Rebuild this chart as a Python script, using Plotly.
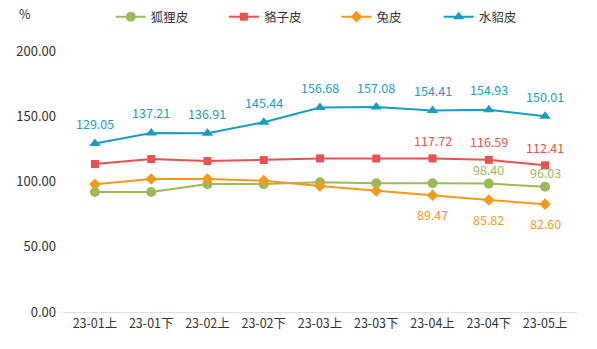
import plotly.graph_objects as go

categories = ["23-01上", "23-01下", "23-02上", "23-02下", "23-03上", "23-03下", "23-04上", "23-04下", "23-05上"]
fox = [92.0, 92.0, 98.0, 98.0, 99.4, 98.6, 98.6, 98.40, 96.03]
raccoon = [113.4, 117.2, 115.7, 116.5, 117.7, 117.6, 117.72, 116.59, 112.41]
rabbit = [97.8, 101.9, 101.9, 100.6, 96.5, 92.8, 89.47, 85.82, 82.60]
mink = [129.05, 137.21, 136.91, 145.44, 156.68, 157.08, 154.41, 154.93, 150.01]

fox_labels = ["", "", "", "", "", "", "", "98.40", "96.03"]
raccoon_labels = ["", "", "", "", "", "", "117.72", "116.59", "112.41"]
rabbit_labels = ["", "", "", "", "", "", "89.47", "85.82", "82.60"]
mink_labels = [f"{v:.2f}" for v in mink]

FONT = "Noto Sans CJK SC, Microsoft YaHei, sans-serif"

# name, values, labels, color, symbol, size, label shift(px), legend id, legend x
series = [
    ("狐狸皮", fox, fox_labels, "#9bbb59", "circle", 10, 14, "legend", 0.093),
    ("貉子皮", raccoon, raccoon_labels, "#e9524e", "square", 8, 18, "legend2", 0.313),
    ("兔皮", rabbit, rabbit_labels, "#f09b1c", "diamond", 9, -19, "legend3", 0.532),
    ("水貂皮", mink, mink_labels, "#199dc3", "triangle-up", 10, 20, "legend4", 0.731),
]

fig = go.Figure()
annotations = []
legends = {}
for name, vals, labels, color, sym, size, shift, lg, lx in series:
    fig.add_trace(go.Scatter(
        x=categories, y=vals, name=name, mode="lines+markers",
        line=dict(color=color, width=2),
        marker=dict(color=color, symbol=sym, size=size),
        legend=lg,
    ))
    for c, v, t in zip(categories, vals, labels):
        if t:
            annotations.append(dict(x=c, y=v, text=t, showarrow=False, xref="x", yref="y",
                                    yshift=shift, xanchor="center", yanchor="middle",
                                    font=dict(color=color, size=12.5, family=FONT)))
    legends[lg] = dict(orientation="h", x=lx, xanchor="left", y=1.13, yanchor="middle",
                       font=dict(size=12.5, color="#333333"), itemclick=False,
                       bgcolor="rgba(0,0,0,0)")

annotations.append(dict(text="%", xref="paper", yref="paper", x=-0.074, y=1.142,
                        xanchor="center", yanchor="middle",
                        showarrow=False, font=dict(size=12.5, color="#333333")))

fig.update_layout(
    width=597, height=349,
    margin=dict(l=63, r=20, t=51, b=37, autoexpand=False),
    plot_bgcolor="white", paper_bgcolor="white",
    font=dict(family=FONT, size=12, color="#333333"),
    showlegend=True,
    xaxis=dict(showgrid=False, showline=True, linecolor="#e0e0e0", linewidth=1,
               ticks="", tickfont=dict(size=12.5, color="#333333")),
    yaxis=dict(range=[0, 200], tickvals=[0, 50, 100, 150, 200], tickformat=".2f",
               showgrid=False, zeroline=False, showline=False,
               ticklabelstandoff=6,
               tickfont=dict(size=13, color="#333333")),
    annotations=annotations,
    **legends,
)

fig.write_html("out.html")
